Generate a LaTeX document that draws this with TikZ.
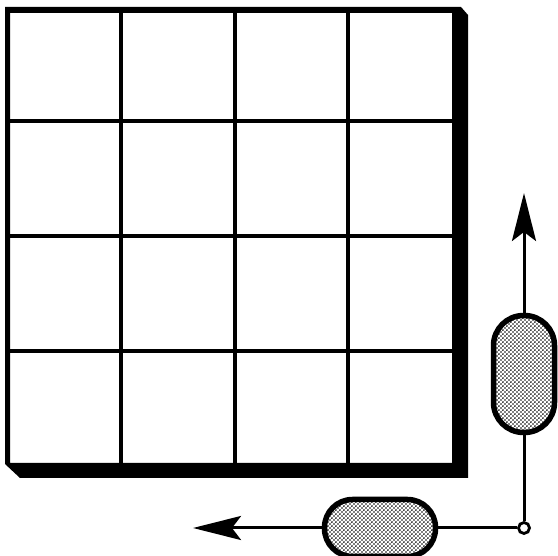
\documentclass[tikz,border=0pt]{standalone}
\usetikzlibrary{arrows.meta,patterns.meta}
\tikzdeclarepattern{
  name=stipple,
  type=uncolored,
  bottom left={(0pt,0pt)},
  top right={(4.4pt,4.4pt)},
  tile size={(4.4pt,4.4pt)},
  code={
    \fill (1.1pt,1.1pt) circle (1.05pt);
    \fill (3.3pt,3.3pt) circle (1.05pt);
  }
}
\tikzset{
  frame/.style={fill=black, even odd rule},
  cellline/.style={line width=3.5pt},
  capsule/.style={draw, line width=5.5pt, pattern=stipple, inner sep=0pt},
  wire/.style={line width=3pt},
  arrow/.style={line width=3pt, -{Stealth[length=48pt, width=24pt, inset=9pt]}},
  joint/.style={draw, circle, line width=2.8pt, fill=white, minimum size=11pt, inner sep=0pt}
}
\begin{document}
\begin{tikzpicture}[x=1pt,y=-1pt]
  \useasboundingbox (0,0) rectangle (558,556);
  % board with shadowed frame
  \path[frame] (5,7) -- (461,7) -- (468,15) -- (468,478) -- (20,478) -- (5,464) -- cycle
    (10,13) rectangle (452,463);
  \foreach \gx in {121,235,348}
    \draw[cellline] (\gx,13) -- (\gx,463);
  \foreach \gy in {121,236,351}
    \draw[cellline] (10,\gy) -- (452,\gy);
  % sliders and their axes
  \node[capsule, minimum width=61pt, minimum height=117pt, rounded corners=30pt] (vcap) at (524,374) {};
  \node[capsule, minimum width=111pt, minimum height=57pt, rounded corners=28pt] (hcap) at (380,528) {};
  \node[joint] (pivot) at (524,528) {};
  \coordinate (uptip) at (524,193);
  \coordinate (lefttip) at (193,528);
  \draw[arrow] (vcap.north) -- (uptip);
  \draw[arrow] (hcap.west) -- (lefttip);
  \draw[wire] (vcap.south) -- (pivot.north);
  \draw[wire] (hcap.east) -- (pivot.west);
\end{tikzpicture}
\end{document}
